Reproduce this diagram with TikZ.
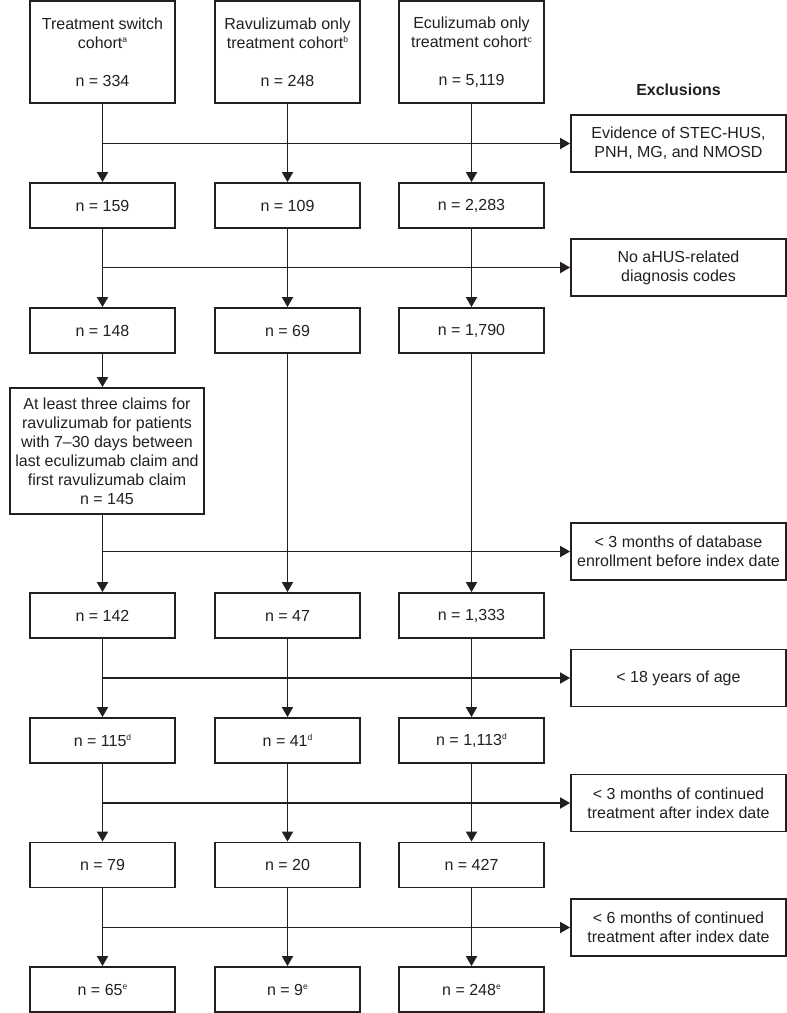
\documentclass[tikz,border=0pt]{standalone}
\usepackage{fontspec}
\setmainfont{Liberation Sans}
\usetikzlibrary{arrows.meta}
\definecolor{ink}{HTML}{231F20}
\newcommand{\fnm}[1]{\raisebox{0.62ex}{\fontsize{8.5}{8.5}\selectfont #1}}
\begin{document}
\begin{tikzpicture}[x=1pt,y=-1pt,
  every node/.style={font=\fontsize{16}{19}\selectfont, text=ink},
  box/.style={draw=ink, line width=1.8pt, minimum width=145pt, minimum height=45pt, align=center, inner sep=0pt},
  excl/.style={draw=ink, line width=1.8pt, minimum width=215pt, minimum height=57pt, align=center, inner sep=0pt},
  arr/.style={draw=ink, line width=1.8pt, -{Triangle[length=10pt,width=11pt]}}]
\useasboundingbox (0,0) rectangle (787,1013);
% row 1
\node[box, minimum height=102pt] (a1) at (102.5,52) {Treatment switch\\cohort\fnm{a}\\ \\n = 334};
\node[box, minimum height=102pt] (b1) at (287.5,52) {Ravulizumab only\\treatment cohort\fnm{b}\\ \\n = 248};
\node[box, minimum height=102pt] (c1) at (471.5,52) {Eculizumab only\\treatment cohort\fnm{c}\\ \\n = 5,119};
\node[font=\fontsize{16}{19}\selectfont\bfseries] (hdr) at (678.5,90) {Exclusions};
% exclusions
\node[excl] (e1) at (678.5,143.5) {Evidence of STEC-HUS,\\PNH, MG, and NMOSD};
\node[excl] (e2) at (678.5,267.5) {No aHUS-related\\diagnosis codes};
\node[excl] (e3) at (678.5,551.5) {< 3 months of database\\enrollment before index date};
\node[excl] (e4) at (678.5,678) {< 18 years of age};
\node[excl] (e5) at (678.5,803) {< 3 months of continued\\treatment after index date};
\node[excl] (e6) at (678.5,927.5) {< 6 months of continued\\treatment after index date};
% row 2
\node[box] (a2) at (102.5,205.5) {n = 159};
\node[box] (b2) at (287.5,205.5) {n = 109};
\node[box] (c2) at (471.5,205.5) {n = 2,283};
% row 3
\node[box] (a3) at (102.5,330.5) {n = 148};
\node[box] (b3) at (287.5,330.5) {n = 69};
\node[box] (c3) at (471.5,330.5) {n = 1,790};
% claims box
\node[box, minimum width=194pt, minimum height=126pt] (a3b) at (107,451) {At least three claims for\\ravulizumab for patients\\with 7–30 days between\\last eculizumab claim and\\first ravulizumab claim\\n = 145};
% row 4
\node[box] (a4) at (102.5,615.5) {n = 142};
\node[box] (b4) at (287.5,615.5) {n = 47};
\node[box] (c4) at (471.5,615.5) {n = 1,333};
% row 5
\node[box] (a5) at (102.5,740.5) {n = 115\fnm{d}};
\node[box] (b5) at (287.5,740.5) {n = 41\fnm{d}};
\node[box] (c5) at (471.5,740.5) {n = 1,113\fnm{d}};
% row 6
\node[box] (a6) at (102.5,865) {n = 79};
\node[box] (b6) at (287.5,865) {n = 20};
\node[box] (c6) at (471.5,865) {n = 427};
% row 7
\node[box] (a7) at (102.5,989.5) {n = 65\fnm{e}};
\node[box] (b7) at (287.5,989.5) {n = 9\fnm{e}};
\node[box] (c7) at (471.5,989.5) {n = 248\fnm{e}};
% vertical connectors
\draw[arr] (a1) -- (a2);
\draw[arr] (b1) -- (b2);
\draw[arr] (c1) -- (c2);
\draw[arr] (a2) -- (a3);
\draw[arr] (b2) -- (b3);
\draw[arr] (c2) -- (c3);
\draw[arr] (a3.south) -- (a3.south |- a3b.north);
\draw[arr] (a3.south |- a3b.south) -- (a4.north);
\draw[arr] (b3) -- (b4);
\draw[arr] (c3) -- (c4);
\draw[arr] (a4) -- (a5);
\draw[arr] (b4) -- (b5);
\draw[arr] (c4) -- (c5);
\draw[arr] (a5) -- (a6);
\draw[arr] (b5) -- (b6);
\draw[arr] (c5) -- (c6);
\draw[arr] (a6) -- (a7);
\draw[arr] (b6) -- (b7);
\draw[arr] (c6) -- (c7);
% horizontal exclusion connectors
\draw[arr] (a1.south |- e1.west) -- (e1.west);
\draw[arr] (a2.south |- e2.west) -- (e2.west);
\draw[arr] (a4.north |- e3.west) -- (e3.west);
\draw[arr] (a4.south |- e4.west) -- (e4.west);
\draw[arr] (a5.south |- e5.west) -- (e5.west);
\draw[arr] (a6.south |- e6.west) -- (e6.west);
\end{tikzpicture}
\end{document}
